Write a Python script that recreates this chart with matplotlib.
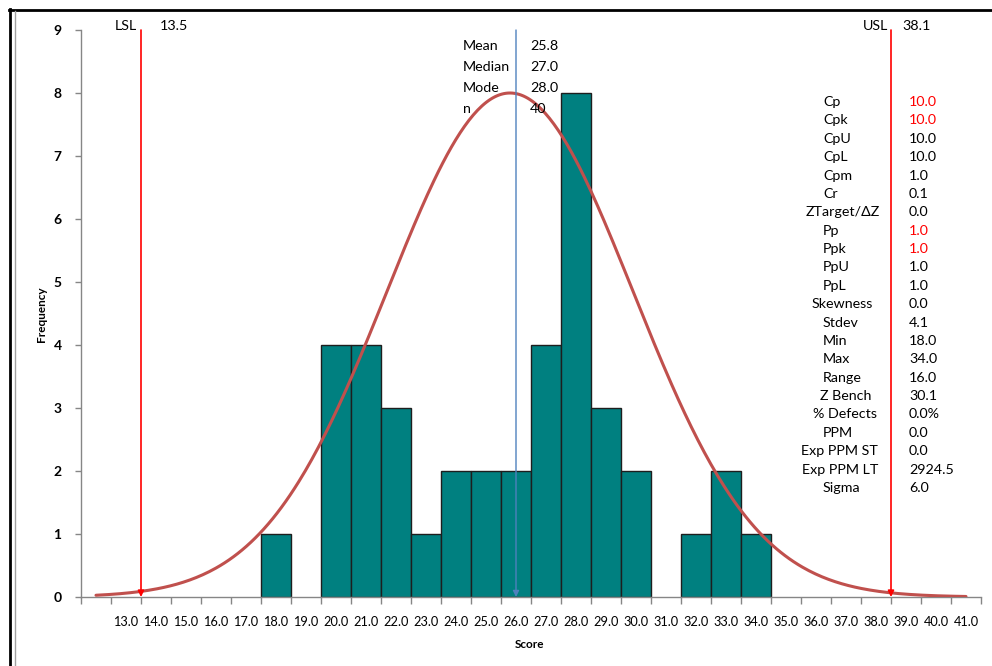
import matplotlib.pyplot as plt
import numpy as np
from matplotlib.lines import Line2D

plt.rcParams['font.family'] = ['Lato', 'DejaVu Sans']

# histogram data
scores = [18, 19, 20, 21, 22, 23, 24, 25, 26, 27, 28, 29, 30, 31, 32, 33, 34]
counts = [1, 0, 4, 4, 3, 1, 2, 2, 2, 4, 8, 3, 2, 0, 1, 2, 1]
tick_values = list(range(13, 42))

lsl, usl = 13.5, 38.1
mean, stdev = 25.8, 4.1
# where the spec / mean lines sit on the drawn axis
lsl_pos, usl_pos, mean_pos = 13.5, 38.5, 26.0
curve_range = (12.0, 41.0)

top_labels = ['Mean', 'Median', 'Mode', 'n']
top_values = ['25.8', '27.0', '28.0', '40']

stat_labels = ['Cp', 'Cpk', 'CpU', 'CpL', 'Cpm', 'Cr', 'ZTarget/\u0394Z', 'Pp', 'Ppk',
               'PpU', 'PpL', 'Skewness', 'Stdev', 'Min', 'Max', 'Range', 'Z Bench',
               '% Defects', 'PPM', 'Exp PPM ST', 'Exp PPM LT', 'Sigma']
stat_values = ['10.0', '10.0', '10.0', '10.0', '1.0', '0.1', '0.0', '1.0', '1.0',
               '1.0', '1.0', '0.0', '4.1', '18.0', '34.0', '16.0', '30.1',
               '0.0%', '0.0', '0.0', '2924.5', '6.0']
red_stats = {'Cp', 'Cpk', 'Pp', 'Ppk'}

W, H = 992, 666
FS = 10.3


def px(x, y):
    return x / W, 1 - y / H


fig = plt.figure(figsize=(W / 100, H / 100), dpi=100)
ax = fig.add_axes([81 / W, 1 - 597 / H, 900 / W, 567 / H])

bx = [s for s, c in zip(scores, counts) if c > 0]
bh = [c for c in counts if c > 0]
ax.bar(bx, bh, width=1.0, color='#008080', edgecolor='#1e1e1e', linewidth=1.0, zorder=2)

# fitted normal curve, scaled to the tallest bar
xs = np.linspace(curve_range[0], curve_range[1], 400)
ys = max(counts) * np.exp(-0.5 * ((xs - mean) / stdev) ** 2)
ax.plot(xs, ys, color='#C0504D', lw=2.2, zorder=3, solid_capstyle='round')

for xpos, col, lw in [(lsl_pos, '#FF0000', 1.2), (usl_pos, '#FF0000', 1.2), (mean_pos, '#4F81BD', 1.0)]:
    ax.annotate('', xy=(xpos, 0), xytext=(xpos, 9),
                arrowprops=dict(arrowstyle='-|>', color=col, lw=lw, mutation_scale=9,
                                shrinkA=0, shrinkB=0), zorder=4)

ax.set_xlim(11.5, 41.5)
ax.set_ylim(0, 9)
ax.set_xticks(tick_values)
ax.set_xticklabels([f'{v:.1f}' for v in tick_values], fontsize=9.2)
ax.set_xticks(np.arange(11.5, 42, 1.0), minor=True)
ax.tick_params(axis='x', which='major', length=0, pad=14)
ax.tick_params(axis='x', which='minor', length=5, color='#868686', width=1)
ax.set_yticks(range(0, 10))
ax.set_yticklabels([str(i) for i in range(10)], fontsize=10, fontweight='bold')
ax.tick_params(axis='y', length=4, color='#868686', width=1, pad=10)
for s in ['top', 'right']:
    ax.spines[s].set_visible(False)
for s in ['left', 'bottom']:
    ax.spines[s].set_color('#868686')
    ax.spines[s].set_linewidth(1.0)

fig.text(*px(42, 314), 'Frequency', rotation=90, fontsize=8.5, fontweight='bold',
         ha='center', va='center')
fig.text(*px(530, 645), 'Score', fontsize=8.5, fontweight='bold', ha='center', va='center')

# spec limit labels
fig.text(*px(137, 26), 'LSL', fontsize=FS, ha='right', va='center')
fig.text(*px(160, 26), f'{lsl}', fontsize=FS, ha='left', va='center')
fig.text(*px(888, 26), 'USL', fontsize=FS, ha='right', va='center')
fig.text(*px(902, 26), f'{usl}', fontsize=FS, ha='left', va='center')

for i, (lab, val) in enumerate(zip(top_labels, top_values)):
    y = 46 + i * 21
    fig.text(*px(463, y), lab, fontsize=FS, ha='left', va='center')
    fig.text(*px(530, y), val, fontsize=FS, ha='left', va='center')

centered = {'ZTarget/\u0394Z': 843, 'Skewness': 842, 'Z Bench': 846,
            '% Defects': 845, 'Exp PPM ST': 839, 'Exp PPM LT': 840}
for i, (lab, val) in enumerate(zip(stat_labels, stat_values)):
    y = 102 + i * 18.38
    if lab in centered:
        fig.text(*px(centered[lab], y), lab, fontsize=FS, ha='center', va='center')
    else:
        fig.text(*px(823, y), lab, fontsize=FS, ha='left', va='center')
    fig.text(*px(909, y), val, fontsize=FS, ha='left', va='center',
             color='#FF0000' if lab in red_stats else 'black')

# frame edges of the screenshot
fig.add_artist(Line2D([9.5 / W, 9.5 / W], [0, 1 - 9 / H], color='black', lw=2))
fig.add_artist(Line2D([9 / W, 1], [1 - 10 / H, 1 - 10 / H], color='black', lw=2))
fig.add_artist(Line2D([15 / W, 15 / W], [0, 1 - 11 / H], color='#A0A0A0', lw=1))

fig.savefig('out.png', dpi=100)
